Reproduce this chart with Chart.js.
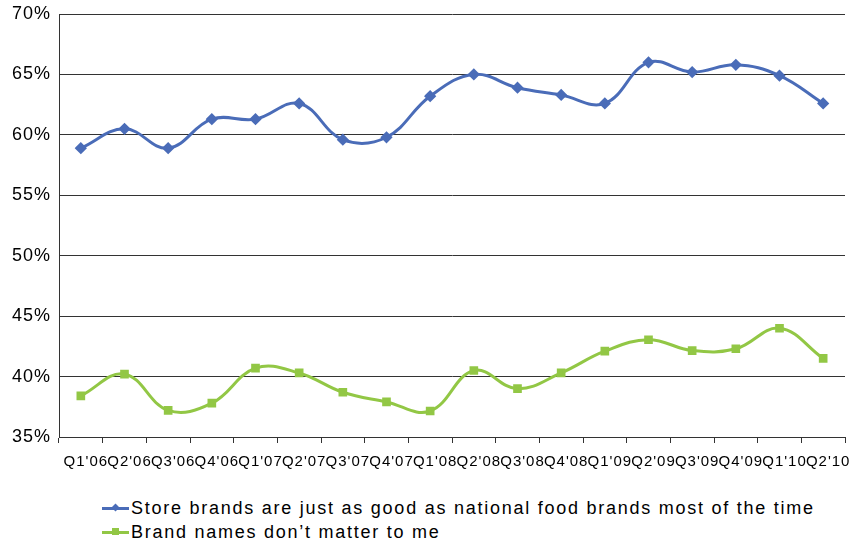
<!DOCTYPE html>
<html>
<head>
<meta charset="utf-8">
<script src="https://cdn.jsdelivr.net/npm/chart.js@4"></script>
<style>
  body { margin: 0; background: #fff; font-family: Arial, "Liberation Sans", sans-serif; }
  #wrap { position: relative; width: 852px; height: 480px; }
  #legend { position: absolute; left: 102px; top: 496px; font-size: 18px; letter-spacing: 1.75px; color: #000; }
  .item { height: 24px; line-height: 24px; white-space: nowrap; }
  .icon { display: inline-block; position: relative; width: 27px; height: 3px; vertical-align: middle; margin-right: 2px; top: -1px; }
  .mk { position: absolute; left: 10px; top: -3px; width: 7px; height: 7px; }
</style>
</head>
<body>
<div id="wrap"><canvas id="chart" width="852" height="480"></canvas></div>
<div id="legend"></div>
<script>
// kategoriler ve seriler
const quarters = ["Q1'06","Q2'06","Q3'06","Q4'06","Q1'07","Q2'07","Q3'07","Q4'07","Q1'08","Q2'08","Q3'08","Q4'08","Q1'09","Q2'09","Q3'09","Q4'09","Q1'10","Q2'10"];
const storeBrands = [58.9,60.5,58.9,61.3,61.3,62.6,59.6,59.8,63.2,65.0,63.9,63.3,62.6,66.0,65.2,65.8,64.9,62.6];
const brandNames = [38.4,40.2,37.2,37.8,40.7,40.3,38.7,37.9,37.15,40.5,39.0,40.3,42.1,43.05,42.15,42.3,44.0,41.5];
const yTicks = [35,40,45,50,55,60,65,70];

const blue = '#4A6CB8';
const green = '#92C745';

// canvas harf aralığı
const spacing = {
    id: 'spacing',
    beforeLayout(chart) { chart.ctx.letterSpacing = '1px'; },
    beforeDraw(chart) { chart.ctx.letterSpacing = '1px'; }
};

const ctx = document.getElementById('chart').getContext('2d');
new Chart(ctx, {
    type: 'line',
    data: {
        labels: quarters,
        datasets: [{
            label: 'Store brands are just as good as national food brands most of the time',
            data: storeBrands,
            borderColor: blue,
            backgroundColor: blue,
            borderWidth: 3,
            pointStyle: 'rectRot',
            pointRadius: 4,
            pointHoverRadius: 4,
            tension: 0.4
        }, {
            label: 'Brand names don\u2019t matter to me',
            data: brandNames,
            borderColor: green,
            backgroundColor: green,
            borderWidth: 3,
            pointStyle: 'rect',
            pointRadius: 4,
            pointHoverRadius: 4,
            tension: 0.4
        }]
    },
    options: {
        responsive: false,
        animation: false,
        layout: { padding: { top: 14, right: 5, left: 0, bottom: 0 } },
        plugins: { legend: { display: false }, tooltip: { enabled: false } },
        scales: {
            x: {
                offset: true,
                grid: { display: true, offset: true, drawOnChartArea: false, drawTicks: true, tickLength: 6, color: '#333' },
                border: { color: '#333' },
                ticks: { autoSkip: false, maxRotation: 0, minRotation: 0, padding: 10, labelOffset: 5, color: '#000', font: { size: 15, family: 'Arial, "Liberation Sans"' } },
                afterFit(scale) { scale.height = 43; scale.paddingLeft = 0; scale.paddingRight = 0; }
            },
            y: {
                min: 35, max: 70,
                afterBuildTicks(scale) { scale.ticks = yTicks.map(v => ({ value: v })); },
                grid: { color: '#333', drawTicks: false },
                border: { color: '#333' },
                ticks: { padding: 8, color: '#000', font: { size: 18, family: 'Arial, "Liberation Sans"' }, callback: v => v + '%' },
                afterFit(scale) { scale.width = 59; scale.paddingTop = 0; scale.paddingBottom = 0; }
            }
        }
    },
    plugins: [spacing]
});

// alt açıklama
const legendItems = [
    { text: 'Store brands are just as good as national food brands most of the time', color: blue, shape: 'diamond' },
    { text: 'Brand names don\u2019t matter to me', color: green, shape: 'square' }
];
const legend = document.getElementById('legend');
legendItems.forEach(it => {
    const row = document.createElement('div');
    row.className = 'item';
    const icon = document.createElement('span');
    icon.className = 'icon';
    icon.style.background = it.color;
    const mk = document.createElement('span');
    mk.className = 'mk';
    mk.style.background = it.color;
    if (it.shape === 'diamond') { mk.style.transform = 'rotate(45deg) scale(0.8)'; }
    icon.appendChild(mk);
    row.appendChild(icon);
    row.appendChild(document.createTextNode(it.text));
    legend.appendChild(row);
});
</script>
</body>
</html>
